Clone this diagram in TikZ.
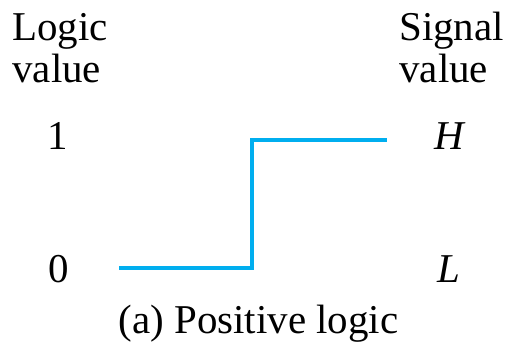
\documentclass[tikz,border=0pt]{standalone}
\usepackage{fontspec}
\setmainfont{Liberation Serif}
\definecolor{sigcyan}{RGB}{0,174,239}
\begin{document}
\begin{tikzpicture}[
  lbl/.style={font=\fontsize{23.3}{28}\selectfont, inner sep=0pt},
  wave/.style={sigcyan, line width=2.2pt}
]
\useasboundingbox (0, 0) rectangle (10.14, 6.9);
\node[lbl, anchor=base west] (logic) at (0.24, 6.08) {Logic};
\node[lbl, anchor=base west] (lval) at (0.24, 5.24) {value};
\node[lbl, anchor=base west] (signal) at (7.98, 6.08) {Signal};
\node[lbl, anchor=base west] (sval) at (7.98, 5.24) {value};
\node[lbl, anchor=base] (one) at (1.16, 3.9) {1};
\node[lbl, anchor=base] (zero) at (1.18, 1.26) {0};
\node[lbl, anchor=base] (high) at (9.0, 3.9) {\textit{H}};
\node[lbl, anchor=base] (low) at (8.98, 1.26) {\textit{L}};
\coordinate (start) at (2.38, 1.54);
\coordinate (rise) at (5.04, 1.54);
\coordinate (top) at (5.04, 4.1);
\coordinate (stop) at (7.74, 4.1);
\draw[wave] (start) -- (rise) -- (top) -- (stop);
\node[lbl, anchor=base] (caption) at (5.17, 0.24) {(a) Positive logic};
\end{tikzpicture}
\end{document}
